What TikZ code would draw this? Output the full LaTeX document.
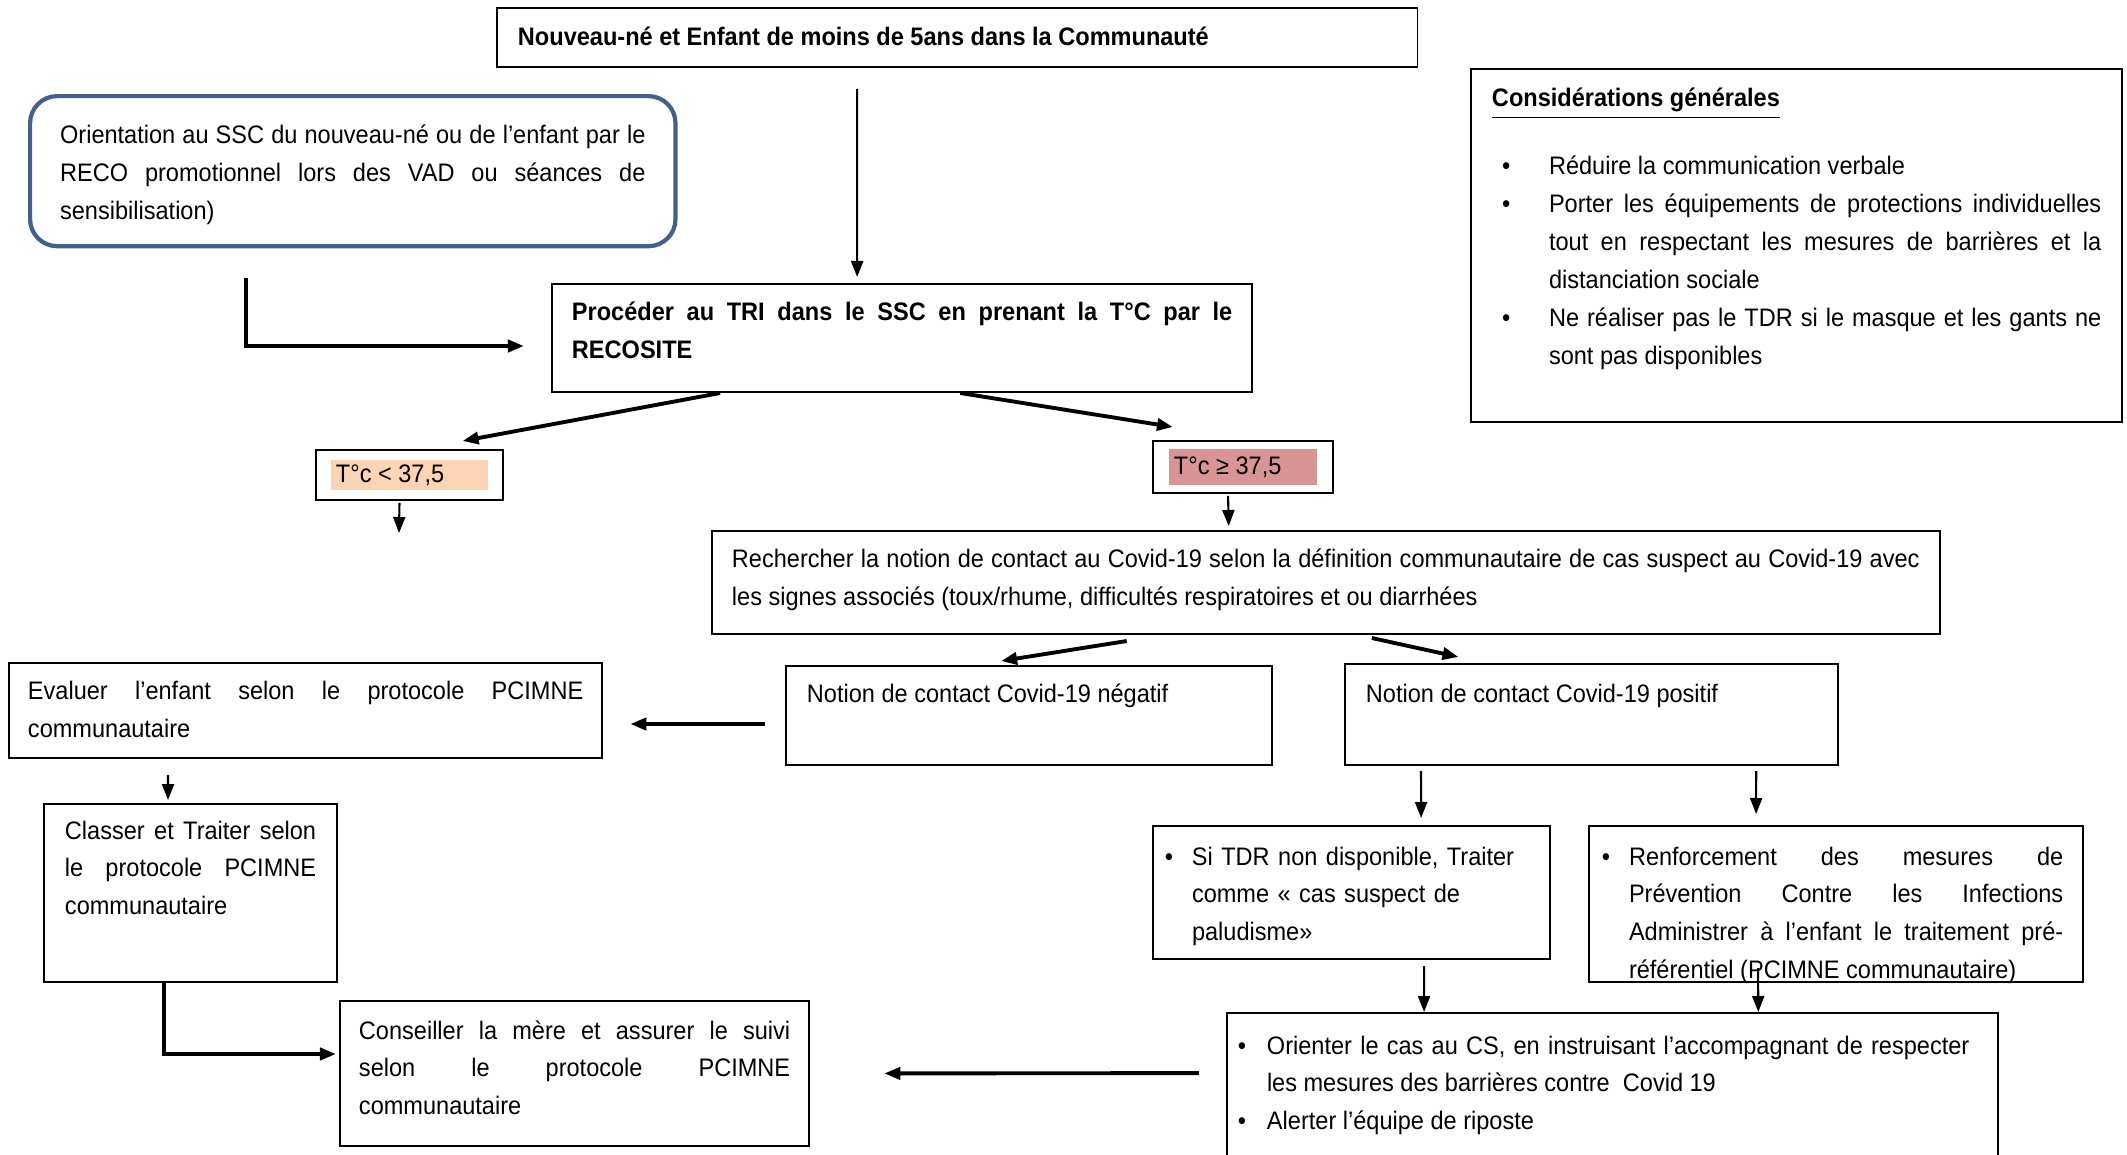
\documentclass[tikz,border=0pt]{standalone}
\usepackage{fontspec}
\setmainfont{Liberation Sans}[FakeStretch=0.93]
\usepackage{tikz}
\usetikzlibrary{arrows.meta}

\definecolor{bleucadre}{HTML}{41618C}
\definecolor{peche}{HTML}{FBD4B4}
\definecolor{rose}{HTML}{D99594}
\setlength{\fboxsep}{0pt}

% puce avec retrait suspendu
\newcommand{\puce}[1]{\hangindent=#1\hangafter=1\noindent\makebox[#1][l]{\hspace{0.1cm}\textbullet}}

\begin{document}
\begin{tikzpicture}[x=0.01cm, y=-0.01cm,
        boite/.style={rectangle, draw, line width=0.55pt, anchor=north west, inner ysep=0pt, inner xsep=0.2cm, align=justify, font=\fontsize{7.2}{10.8}\selectfont},
        seuil/.style={rectangle, draw, line width=0.55pt, anchor=north west, font=\fontsize{7.2}{10.8}\selectfont},
        fleche/.style={draw, line width=0.6pt, -{Triangle[length=0.16cm, width=0.12cm]}},
        fleche epaisse/.style={fleche, line width=1.1pt}
    ]
        \useasboundingbox (0,0) rectangle (2127,1154);
        \clip (0,0) rectangle (2127,1154);

        % Noeuds
        \node [boite, inner xsep=0.21cm, text width=8.78cm, text height=0.38cm, text depth=0.21cm] (haut) at (496,7) {\textbf{Nouveau-né et Enfant de moins de 5ans dans la Communauté}};

        \node [boite, draw=bleucadre, line width=1.2pt, rounded corners=0.27cm, inner xsep=0.3cm, text width=5.85cm, text height=0.47cm, text depth=1.03cm] (orient) at (28,94) {Orientation au SSC du nouveau-né ou de l’enfant par le\linebreak RECO promotionnel lors des VAD ou séances de\linebreak sensibilisation)};

        \node [boite, inner xsep=0.21cm, text width=6.09cm, text height=0.38cm, text depth=3.15cm] (consid) at (1470,68) {\underline{\textbf{Considérations générales}}\par\vspace{0.3cm}
            \puce{0.57cm}Réduire la communication verbale\par
            \puce{0.57cm}Porter les équipements de protections individuelles\linebreak tout en respectant les mesures de barrières et la\linebreak distanciation sociale\par
            \puce{0.57cm}Ne réaliser pas le TDR si le masque et les gants ne\linebreak sont pas disponibles\par};

        \node [boite, text width=6.6cm, text height=0.37cm, text depth=0.71cm] (tri) at (551,283) {\textbf{Procéder au TRI dans le SSC en prenant la T°C par le\linebreak RECOSITE}};

        \node [seuil, inner xsep=0.15cm, inner ysep=0.1cm] (inf) at (315,449) {\colorbox{peche}{\parbox[c][0.3cm][c]{1.57cm}{\hspace{0.05cm}T°c < 37,5}}};
        \node [seuil, inner xsep=0.16cm, inner ysep=0.085cm] (sup) at (1152,440) {\colorbox{rose}{\parbox[c][0.35cm][c]{1.48cm}{\hspace{0.05cm}T°c ≥ 37,5}}};
        \coordinate (attente) at (399,533);

        \node [boite, text width=11.87cm, text height=0.37cm, text depth=0.66cm] (rech) at (711,530) {Rechercher la notion de contact au Covid-19 selon la définition communautaire de cas suspect au Covid-19 avec\linebreak les signes associés (toux/rhume, difficultés respiratoires et ou diarrhées};

        \node [boite, inner xsep=0.19cm, text width=5.55cm, text height=0.37cm, text depth=0.58cm] (eval) at (8,662) {Evaluer l’enfant selon le protocole PCIMNE\linebreak communautaire};
        \node [boite, inner xsep=0.21cm, text width=4.44cm, text height=0.36cm, text depth=0.63cm] (neg) at (785,665) {Notion de contact Covid-19 négatif};
        \node [boite, inner xsep=0.21cm, text width=4.51cm, text height=0.38cm, text depth=0.63cm] (pos) at (1344,663) {Notion de contact Covid-19 positif};

        \node [boite, inner xsep=0.21cm, text width=2.51cm, text height=0.35cm, text depth=1.43cm] (classer) at (43,803) {Classer et Traiter selon\linebreak le protocole PCIMNE\linebreak communautaire};
        \node [boite, inner xsep=0.19cm, text width=4.31cm, text height=0.38cm, text depth=1.07cm] (conseil) at (339,1000) {Conseiller la mère et assurer le suivi\linebreak selon le protocole PCIMNE\linebreak communautaire};

        \node [boite, align=left, inner xsep=0.02cm, text width=3.93cm, text height=0.39cm, text depth=0.94cm] (sitdr) at (1152,825) {\puce{0.37cm}Si TDR non disponible, Traiter\newline comme « cas suspect de\newline paludisme»\par};
        \node [boite, inner xsep=0.03cm, text width=4.88cm, text height=0.39cm, text depth=1.17cm] (renf) at (1588,825) {\rightskip=0.17cm\puce{0.37cm}Renforcement des mesures de\linebreak Prévention Contre les Infections\linebreak Administrer à l’enfant le traitement pré-\linebreak référentiel (PCIMNE communautaire)\par};

        \node [boite, inner xsep=0.01cm, text width=7.69cm, text height=0.41cm, text depth=1.5cm] (orienter) at (1226,1012) {\rightskip=0.28cm\puce{0.39cm}Orienter le cas au CS, en instruisant l’accompagnant de respecter\linebreak les mesures des barrières contre~ Covid 19\par
            \puce{0.39cm}Alerter l’équipe de riposte\par};

        % Liaisons
        \draw [fleche, shorten <=0.21cm, shorten >=0.06cm] ([xshift=-1cm]haut.south) -- ([xshift=-0.45cm]tri.north);
        \draw [fleche epaisse, shorten <=0.30cm, shorten >=0.27cm] ([xshift=-1.07cm]orient.south) |- ([yshift=-0.08cm]tri.west);
        \draw [fleche epaisse] ([xshift=-1.82cm]tri.south) -- ([xshift=0.53cm, yshift=0.08cm]inf.north);
        \draw [fleche epaisse] ([xshift=0.58cm]tri.south) -- ([xshift=-0.70cm, yshift=0.13cm]sup.north);
        \draw [fleche, shorten <=0.02cm] ([xshift=-0.1cm]inf.south) -- (attente);
        \draw [fleche, shorten <=0.02cm] ([xshift=-0.15cm]sup.south) -- ([xshift=-0.97cm, yshift=0.04cm]rech.north);
        \draw [fleche epaisse] ([xshift=-1.99cm, yshift=-0.06cm]rech.south) -- ([xshift=-0.28cm, yshift=0.04cm]neg.north);
        \draw [fleche epaisse] ([xshift=0.46cm, yshift=-0.03cm]rech.south) -- ([xshift=-1.33cm, yshift=0.06cm]pos.north);
        \draw [fleche epaisse, shorten <=0.2cm, shorten >=0.27cm] ([yshift=-0.085cm]neg.west) -- ([yshift=-0.135cm]eval.east);
        \draw [fleche, shorten <=0.16cm, shorten >=0.03cm] ([xshift=-1.375cm]eval.south) -- ([xshift=-0.225cm]classer.north);
        \draw [fleche epaisse, shorten >=0.03cm] ([xshift=-0.265cm]classer.south) |- ([yshift=0.195cm]conseil.west);
        \draw [fleche, shorten <=0.05cm, shorten >=0.07cm] ([xshift=-1.705cm]pos.south) -- ([xshift=0.695cm]sitdr.north);
        \draw [fleche, shorten <=0.05cm, shorten >=0.11cm] ([xshift=1.645cm]pos.south) -- ([xshift=-0.80cm]renf.north);
        \draw [fleche, shorten <=0.06cm] ([xshift=0.725cm]sitdr.south) -- ([xshift=-1.885cm]orienter.north);
        \draw [fleche] ([xshift=-0.78cm, yshift=0.15cm]renf.south) -- ([xshift=1.455cm]orienter.north);
        \draw [fleche epaisse, shorten <=0.27cm, shorten >=0.74cm] ([yshift=-0.61cm]orienter.north west) -- (conseil.east);
    \end{tikzpicture}
\end{document}
